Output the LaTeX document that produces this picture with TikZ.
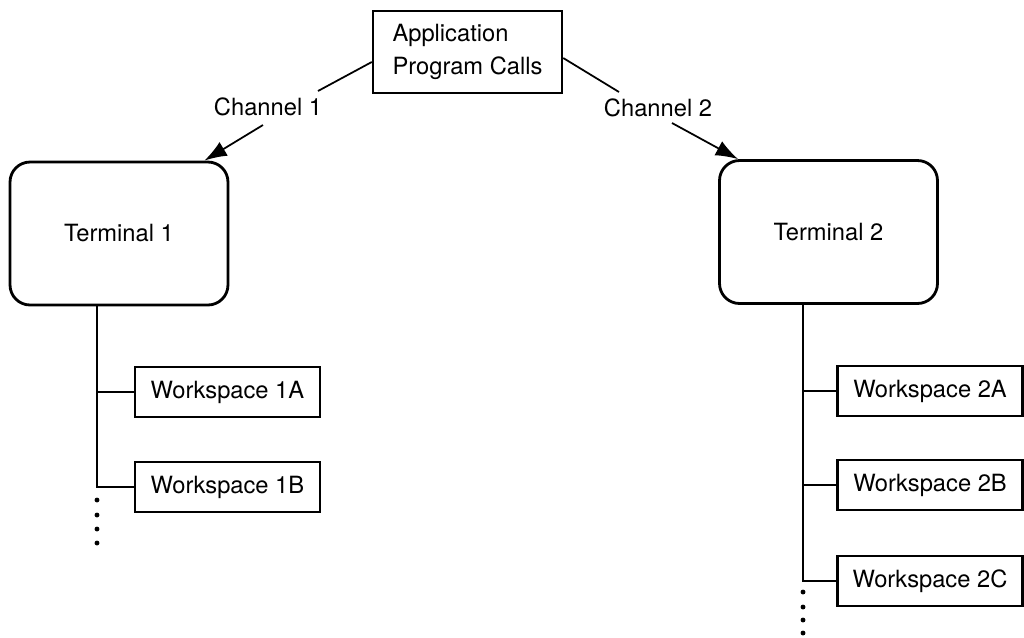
\documentclass[tikz,border=0pt]{standalone}
\usepackage{fontspec}
\setmainfont{TeX Gyre Heros}
\usetikzlibrary{arrows.meta, positioning}

\begin{document}
\begin{tikzpicture}[x=0.02cm, y=-0.02cm,
		every node/.style={font=\fontsize{13.5pt}{19pt}\selectfont},
		callbox/.style={draw, line width=1.4pt, minimum width=3.78cm, minimum height=1.64cm, align=left},
		termbox/.style={draw, line width=1.6pt, rounded corners=0.4cm, minimum width=4.36cm, minimum height=2.86cm},
		wsbox/.style={draw, line width=1.4pt, minimum width=3.7cm, minimum height=1cm},
		link/.style={line width=1pt},
		chan/.style={link, -{Latex[length=4.5mm,width=3.2mm]}}]
					\useasboundingbox (0,0) rectangle (1024,637);

					\node[callbox] (app) at (467.5,52) {Application\\Program Calls};

					\node[termbox] (t1) at (119,233.5) {Terminal 1};
					\node[termbox] (t2) at (828.5,232) {Terminal 2};

					\node[wsbox] (w1a) at (227.5,392) {Workspace 1A};
					\node[wsbox] (w1b) at (227.5,487) {Workspace 1B};

					\node[wsbox] (w2a) at (930,391) {Workspace 2A};
					\node[wsbox] (w2b) at (930,485) {Workspace 2B};
					\node[wsbox] (w2c) at (930,581) {Workspace 2C};

					%% channels
					\node (ch1) at (268,107) {Channel 1};
					\node (ch2) at (658,108) {Channel 2};
					\coordinate (c1a) at (318,91);
					\coordinate (c1b) at (263,125);
					\coordinate (c2a) at (619,92);
					\coordinate (c2b) at (672,123);

					\draw[link] ([yshift=-0.2cm]app.west) -- (c1a);
					\draw[chan] (c1b) -- ([xshift=-0.5cm]t1.north east);
					\draw[link] ([yshift=-0.12cm]app.east) -- (c2a);
					\draw[chan] (c2b) -- ([xshift=0.4cm]t2.north west);

					%% workspace trees
					\coordinate (v1) at (97,0);
					\coordinate (v2) at (803,0);
					\draw[link] (t1.south -| v1) |- (w1a.west);
					\draw[link] (w1a.west -| v1) |- (w1b.west);
					\draw[link] (t2.south -| v2) |- (w2a.west);
					\draw[link] (w2a.west -| v2) |- (w2b.west);
					\draw[link] (w2b.west -| v2) |- (w2c.west);

					\foreach \y in {500,515,529,543}
						\fill (v1 |- 0,\y) circle (1.4pt);
					\foreach \y in {592,607,620,633}
						\fill (v2 |- 0,\y) circle (1.4pt);
				\end{tikzpicture}
\end{document}
